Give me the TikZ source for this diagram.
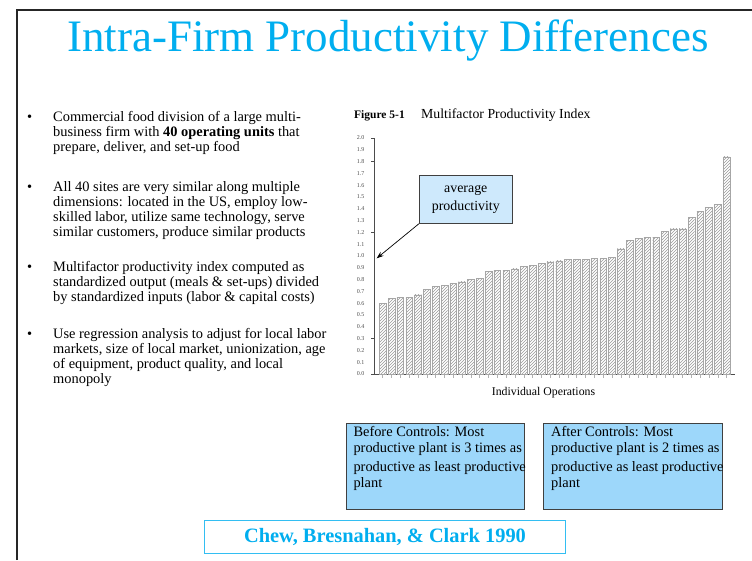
\documentclass[tikz,border=0pt]{standalone}
\usepackage{fontspec}
\setmainfont{Liberation Serif}
\usetikzlibrary{patterns,arrows.meta}
\definecolor{slidecyan}{RGB}{0,174,239}
\definecolor{boxblue}{RGB}{157,215,250}
\definecolor{calloutblue}{RGB}{206,233,252}
\newcommand\toplines[2]{\parbox[t]{#1}{\raggedright #2}}
\tikzset{
  bullettext/.style={anchor=base west,inner sep=0pt,
    font=\fontsize{14.4}{15}\selectfont},
  ylab/.style={anchor=east,inner sep=0.5pt,text=gray!60!black,
    font=\fontsize{6}{6}\selectfont},
  hatchbar/.style={draw=gray!70,line width=0.4pt,pattern=north east lines,
    pattern color=gray!80},
  infobox/.style={draw=black!75,fill=boxblue,line width=0.8pt,
    minimum width=178.6pt,minimum height=86pt,anchor=north west},
  boxtext/.style={anchor=base west,inner sep=0pt,
    font=\fontsize{14.4}{16}\selectfont},
}
\newcommand\MFPaxes[2]{
  \def\N{#1} \def\S{#2}
  \draw[gray!60!black,line width=0.6pt] (374,374-\N*\S) -- (374,374) -- (735,374);
  \foreach \j in {0,...,\N}
  {
    \pgfmathtruncatemacro{\ia}{\j/10}
    \pgfmathtruncatemacro{\ib}{\j-10*\ia}
    \node [ylab] (ylab\j) at (365,374-\j*\S) {\ia.\ib};
  }
  \foreach \j in {0,3,12,18,20}
  {
    \draw[gray!60!black] (371,374-\j*\S) -- (374,374-\j*\S);
  }
  \foreach \i in {0,...,39}
  {
    \draw[gray!60] (382.6+8.82*\i,375) -- ++(0,3);
    % \node [below] at (382.6+8.82*\i,378) {\i};
  }
}

\begin{document}
\begin{tikzpicture}[x=1pt, y=-1pt]
\useasboundingbox (0,0) rectangle (752,560);
\draw[black!85,line width=2.5pt] (17,560) -- (17,10) -- (752,10);

\node[anchor=base,inner sep=0pt,text=slidecyan,font=\fontsize{45}{50}\selectfont]
  (title) at (388,51) {Intra-Firm Productivity Differences};

\foreach \y/\n in {121/1,191.5/2,271/3,338/4}
{
  \node[bullettext] (dot\n) at (27,\y) {\textbullet};
}
\node[bullettext] (item1) at (53,121) {\toplines{290pt}{Commercial food division of a large multi-\\
  business firm with \textbf{40 operating units} that\\
  prepare, deliver, and set-up food}};
\node[bullettext] (item2) at (53,191.5) {\toplines{290pt}{All 40 sites are very similar along multiple\\
  dimensions: located in the US, employ low-\\
  skilled labor, utilize same technology, serve\\
  similar customers, produce similar products}};
\node[bullettext] (item3) at (53,271) {\toplines{290pt}{Multifactor productivity index computed as\\
  standardized output (meals \& set-ups) divided\\
  by standardized inputs (labor \& capital costs)}};
\node[bullettext] (item4) at (53,338) {\toplines{290pt}{Use regression analysis to adjust for local labor\\
  markets, size of local market, unionization, age\\
  of equipment, product quality, and local\\
  monopoly}};

\node[anchor=base west,inner sep=0pt,font=\fontsize{11.5}{12}\selectfont\bfseries]
  (figno) at (354,118.3) {Figure 5-1};
\node[anchor=base west,inner sep=0pt,font=\fontsize{13.8}{14}\selectfont]
  (figname) at (421,118.3) {Multifactor Productivity Index};

\MFPaxes{20}{11.8}
\foreach \v [count=\i from 0] in {0.60,0.64,0.65,0.65,0.67,0.72,0.74,0.75,0.77,0.78,
  0.80,0.81,0.87,0.88,0.88,0.89,0.91,0.92,0.94,0.95,
  0.96,0.97,0.97,0.97,0.98,0.98,0.99,1.06,1.13,1.15,
  1.16,1.16,1.21,1.23,1.23,1.33,1.38,1.41,1.44,1.84}
{
  \draw[hatchbar] (379.3+8.82*\i,374) rectangle ++(6.7,-118*\v);
}
\node[anchor=base west,inner sep=0pt,font=\fontsize{11.8}{12}\selectfont]
  (xlabel) at (491.7,395) {Individual Operations};

\node[draw=black!75,fill=calloutblue,line width=0.8pt,minimum width=93pt,
  minimum height=48.3pt,align=center,inner sep=0pt,
  font=\fontsize{13.9}{18}\selectfont] (avgbox) at (465.8,199.2) {average\\productivity};
\coordinate (avgtip) at (376.7,258.3);
\draw[-{Stealth[length=7pt,width=5pt]},line width=0.7pt] (avgbox.south west) -- (avgtip);

\node[infobox] (beforebox) at (345.7,423.3) {};
\node[boxtext] (beforetext) at (353.3,436) {\toplines{200pt}{Before Controls: Most\\
  productive plant is 3 times as\\[3.5pt]
  productive as least productive\\
  plant}};
\node[infobox] (afterbox) at (543.3,423.3) {};
\node[boxtext] (aftertext) at (551,436) {\toplines{200pt}{After Controls: Most\\
  productive plant is 2 times as\\[3.5pt]
  productive as least productive\\
  plant}};

\node[draw=slidecyan!80,line width=1.5pt,fill=white,minimum width=361.4pt,
  minimum height=32.6pt,inner sep=0pt,text=slidecyan,
  font=\fontsize{20.4}{22}\selectfont\bfseries] (cite) at (385,537)
  {Chew, Bresnahan, \& Clark 1990};
\end{tikzpicture}
\end{document}
